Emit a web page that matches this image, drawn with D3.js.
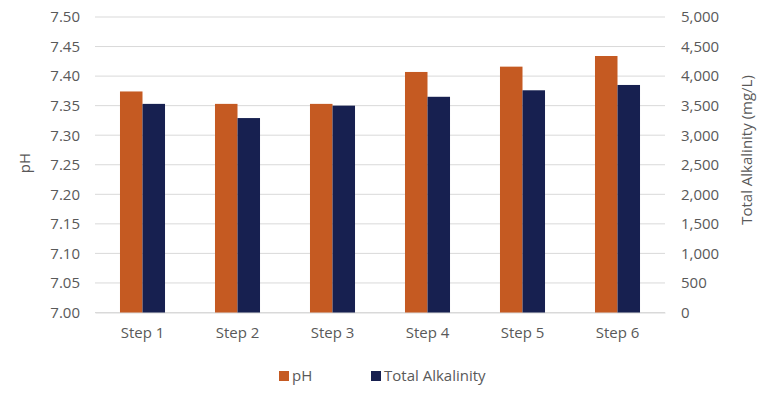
<!DOCTYPE html>
<html>
<head>
<meta charset="utf-8">
<script src="https://cdn.jsdelivr.net/npm/d3@7"></script>
<style>
  body { margin: 0; background: #fff; }
  text { font-family: "Open Sans", sans-serif; fill: #595959; }
</style>
</head>
<body>
<svg id="chart" width="765" height="394"></svg>
<script>
var steps = ["Step 1", "Step 2", "Step 3", "Step 4", "Step 5", "Step 6"];
var phValues = [7.374, 7.353, 7.353, 7.407, 7.416, 7.434];
var alkValues = [3530, 3290, 3500, 3650, 3760, 3850];
var phTicks = [7.00, 7.05, 7.10, 7.15, 7.20, 7.25, 7.30, 7.35, 7.40, 7.45, 7.50];
var alkTicks = [0, 500, 1000, 1500, 2000, 2500, 3000, 3500, 4000, 4500, 5000];
var seriesNames = ["pH", "Total Alkalinity"];

var COLORS = { "pH": "#c55a22", "Total Alkalinity": "#172050" };
var PLOT = { left: 95, right: 665, top: 17, bottom: 312.5 };

function main() {
    var svg = d3.select("#chart");

    var x = d3.scaleBand().domain(steps).range([PLOT.left, PLOT.right]);
    var yPh = d3.scaleLinear().domain([7.0, 7.5]).range([PLOT.bottom, PLOT.top]);
    var yAlk = d3.scaleLinear().domain([0, 5000]).range([PLOT.bottom, PLOT.top]);

    // group of two bars takes ~47% of the category (excel gap width ~220%)
    var groupW = x.bandwidth() * 0.474;
    var xs = d3.scaleBand().domain(seriesNames).range([0, groupW]);

    // gridlines
    svg.append("g")
        .selectAll("line")
        .data(phTicks)
        .enter().append("line")
        .attr("x1", PLOT.left)
        .attr("x2", PLOT.right)
        .attr("y1", function(d) { return yPh(d); })
        .attr("y2", function(d) { return yPh(d); })
        .attr("stroke", "#d9d9d9")
        .attr("stroke-width", 1);

    var left = svg.append("g")
        .attr("transform", "translate(" + PLOT.left + ",0)")
        .call(d3.axisLeft(yPh).tickValues(phTicks).tickFormat(d3.format(".2f")).tickSize(0).tickPadding(15));
    left.select(".domain").remove();
    left.selectAll("text").style("font-size", "15px").attr("fill", "#595959");

    var right = svg.append("g")
        .attr("transform", "translate(" + PLOT.right + ",0)")
        .call(d3.axisRight(yAlk).tickValues(alkTicks).tickFormat(d3.format(",")).tickSize(0).tickPadding(16));
    right.select(".domain").remove();
    right.selectAll("text").style("font-size", "15px").attr("fill", "#595959");

    var bottom = svg.append("g")
        .attr("transform", "translate(0," + PLOT.bottom + ")")
        .call(d3.axisBottom(x).tickSize(0).tickPadding(15));
    bottom.select(".domain").attr("stroke", "#d9d9d9");
    bottom.selectAll("text").style("font-size", "15px").attr("fill", "#595959");

    var rows = steps.map(function(s, i) {
        return [
            { step: s, name: "pH", y: yPh(phValues[i]) },
            { step: s, name: "Total Alkalinity", y: yAlk(alkValues[i]) }
        ];
    });

    var group = svg.selectAll(".step")
        .data(rows)
        .enter().append("g")
        .attr("class", "step")
        .attr("transform", function(d) {
            return "translate(" + (x(d[0].step) + (x.bandwidth() - groupW) / 2) + ",0)";
        });

    group.selectAll("rect")
        .data(function(d) { return d; })
        .enter().append("rect")
        .attr("x", function(d) { return xs(d.name); })
        .attr("width", xs.bandwidth())
        .attr("y", function(d) { return d.y; })
        .attr("height", function(d) { return PLOT.bottom - d.y; })
        .attr("fill", function(d) { return COLORS[d.name]; });

    // axis titles
    svg.append("text")
        .attr("transform", "translate(30,163) rotate(-90)")
        .attr("text-anchor", "middle")
        .style("font-size", "15px")
        .text("pH");

    svg.append("text")
        .attr("transform", "translate(752,150) rotate(-90)")
        .attr("text-anchor", "middle")
        .style("font-size", "15px")
        .text("Total Alkalinity (mg/L)");

    // legend
    var legendX = [279, 371];
    var legend = svg.selectAll(".legend")
        .data(seriesNames)
        .enter().append("g")
        .attr("class", "legend")
        .attr("transform", function(d, i) { return "translate(" + legendX[i] + ",376)"; });
    legend.append("rect")
        .attr("x", 0)
        .attr("y", -5)
        .attr("width", 10)
        .attr("height", 10)
        .attr("fill", function(d) { return COLORS[d]; });
    legend.append("text")
        .attr("x", 13)
        .attr("dy", "0.35em")
        .style("font-size", "15px")
        .text(function(d) { return d; });
}

main();
</script>
</body>
</html>
